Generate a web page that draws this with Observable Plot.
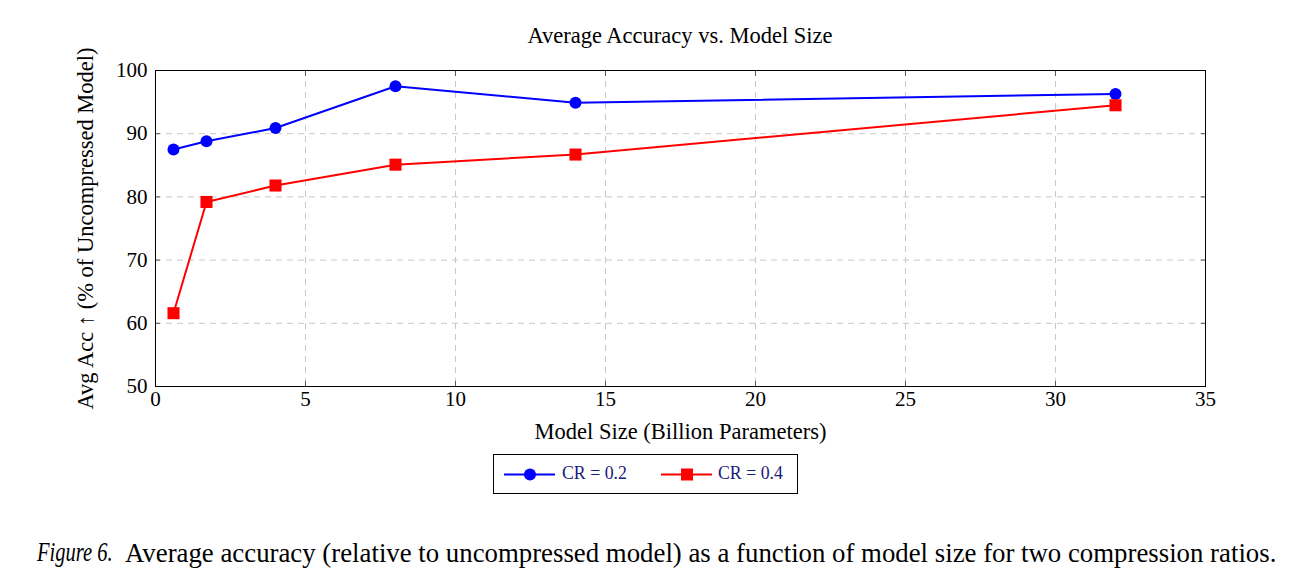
<!DOCTYPE html>
<html>
<head>
<meta charset="utf-8">
<script src="https://cdn.jsdelivr.net/npm/d3@7"></script>
<script src="https://cdn.jsdelivr.net/npm/@observablehq/plot@0.6"></script>
<style>
  html, body { margin: 0; padding: 0; background: #fff; }
  #wrap { position: relative; width: 1291px; height: 584px; font-family: "Liberation Serif", "Times New Roman", serif; }
  #chart { position: absolute; left: 0; top: 0; }
  #title { position: absolute; left: 155px; width: 1050px; top: 23px; text-align: center; font-size: 22.5px; color: #000; }
  #legend { position: absolute; left: 493px; top: 454px; width: 303px; height: 38px; border: 1px solid #000; box-sizing: content-box; }
  #legend svg { position: absolute; left: 0; top: 0; }
  .lg { position: absolute; top: 8px; font-size: 17.8px; color: #1a1a7a; white-space: nowrap; }
  .cap { position: absolute; top: 538px; font-size: 26.8px; color: #000; white-space: nowrap; }
  #capLabel { left: 37px; font-style: italic; font-size: 26.3px; transform: scaleX(0.78); transform-origin: 0 50%; }
  #capText { left: 125px; }
</style>
</head>
<body>
<div id="wrap">
  <div id="chart"></div>
  <div id="title">Average Accuracy vs. Model Size</div>
  <div id="legend">
    <svg width="303" height="38">
      <line x1="10" x2="61" y1="19.5" y2="19.5" stroke="#0000ff" stroke-width="2"/>
      <circle cx="36" cy="19.5" r="6" fill="#0000ff"/>
      <line x1="167" x2="218" y1="19.5" y2="19.5" stroke="#ff0000" stroke-width="2"/>
      <rect x="187" y="13.5" width="12" height="12" fill="#ff0000"/>
    </svg>
    <span class="lg" style="left:68px">CR = 0.2</span>
    <span class="lg" style="left:224px">CR = 0.4</span>
  </div>
  <div class="cap" id="capLabel">Figure 6.</div>
  <div class="cap" id="capText">Average accuracy (relative to uncompressed model) as a function of model size for two compression ratios.</div>
</div>
<script>
// Model sizes (billions of parameters)
const modelSize = [0.6, 1.7, 4, 8, 14, 32];
// Average accuracy as % of the uncompressed model, per compression ratio
const accCR02 = [87.5, 88.8, 90.9, 97.5, 94.9, 96.3];
const accCR04 = [61.6, 79.2, 81.8, 85.1, 86.7, 94.5];
const seriesNames = ["CR = 0.2", "CR = 0.4"];
const xTicks = [0, 5, 10, 15, 20, 25, 30, 35];
const yTicks = [50, 60, 70, 80, 90, 100];

const rows02 = modelSize.map((x, i) => ({x, y: accCR02[i], s: seriesNames[0]}));
const rows04 = modelSize.map((x, i) => ({x, y: accCR04[i], s: seriesNames[1]}));

const innerX = xTicks.slice(1, -1);
const innerY = yTicks.slice(1, -1);
const grid = {stroke: "#c8c8c8", strokeWidth: 1, strokeDasharray: "6,5"};
const inward = {tickSize: -5, text: null, label: null, stroke: "#555"};

const chart = Plot.plot({
  width: 1291,
  height: 450,
  marginLeft: 155,
  marginRight: 86,
  marginTop: 70,
  marginBottom: 64,
  style: {fontFamily: "'Liberation Serif', 'Times New Roman', serif", fontSize: "21px", color: "#000", background: "#fff"},
  x: {domain: [0, 35]},
  y: {domain: [50, 100]},
  marks: [
    Plot.ruleX(innerX, grid),
    Plot.ruleY(innerY, grid),
    Plot.axisX({ticks: xTicks, tickSize: 0, tickPadding: 5, fontSize: 21,
      label: "Model Size (Billion Parameters)", labelAnchor: "center", labelArrow: "none", labelOffset: 52}),
    Plot.axisY({ticks: yTicks, tickSize: 0, tickPadding: 8, fontSize: 21,
      label: "Avg Acc ↑ (% of Uncompressed Model)", labelAnchor: "center", labelArrow: "none", labelOffset: 78}),
    // inward tick marks on all four sides of the frame
    Plot.axisX({ticks: xTicks, anchor: "bottom", ...inward}),
    Plot.axisX({ticks: xTicks, anchor: "top", ...inward}),
    Plot.axisY({ticks: yTicks, anchor: "left", ...inward}),
    Plot.axisY({ticks: yTicks, anchor: "right", ...inward}),
    Plot.frame({stroke: "#000", strokeWidth: 1}),
    Plot.line(rows02, {x: "x", y: "y", stroke: "#0000ff", strokeWidth: 2}),
    Plot.line(rows04, {x: "x", y: "y", stroke: "#ff0000", strokeWidth: 2}),
    Plot.dot(rows02, {x: "x", y: "y", r: 6, fill: "#0000ff", symbol: "circle"}),
    Plot.dot(rows04, {x: "x", y: "y", r: 6.8, fill: "#ff0000", symbol: "square"})
  ]
});
// axis titles are set a little larger than the tick labels
chart.querySelectorAll("g[aria-label$='axis label'] text").forEach(t => t.setAttribute("font-size", "22.5"));
document.getElementById("chart").appendChild(chart);
</script>
</body>
</html>
